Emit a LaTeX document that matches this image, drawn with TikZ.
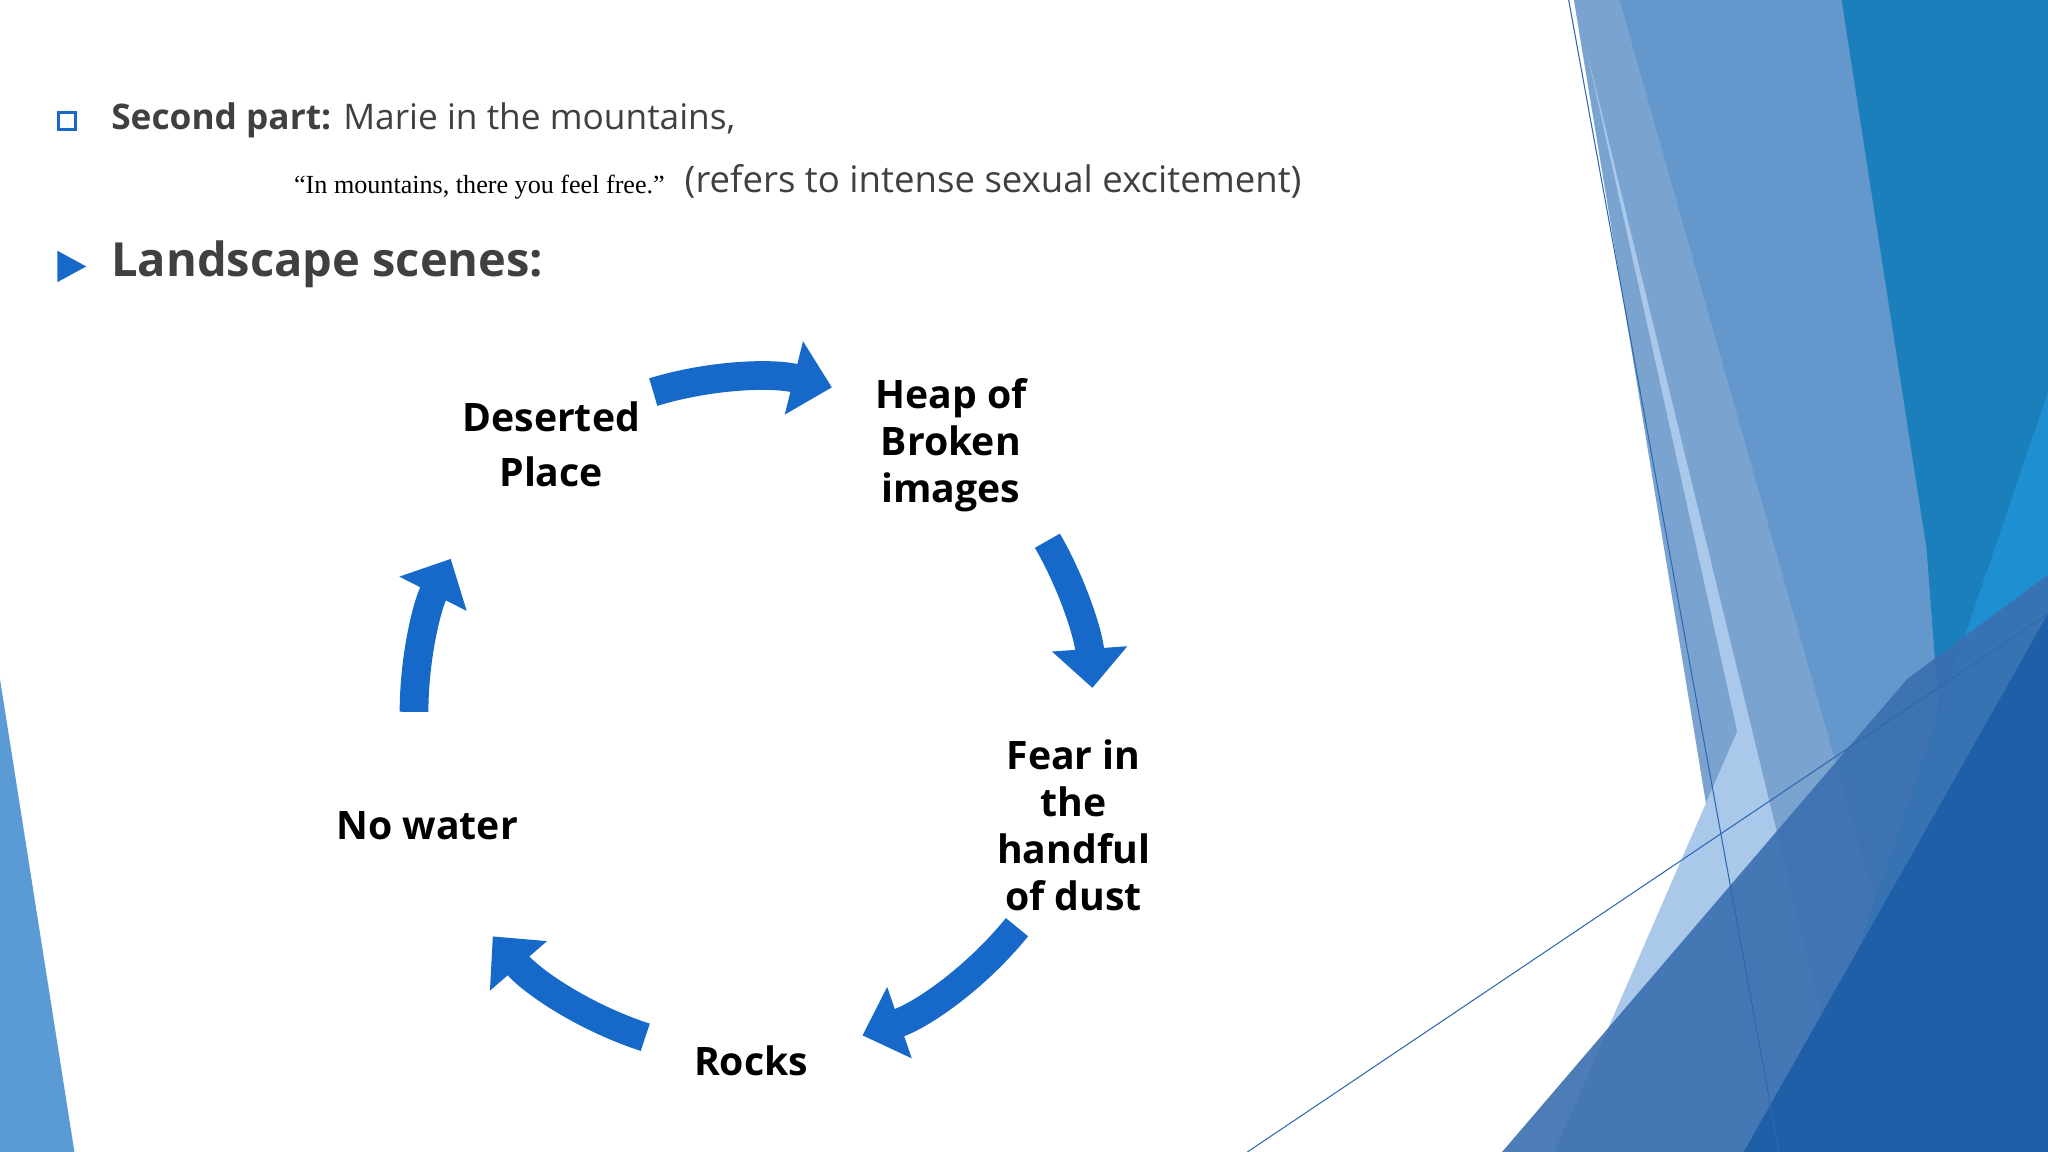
\documentclass[tikz,border=0pt]{standalone}
\usepackage{fontspec}
\setmainfont{Open Sans}
\newfontfamily\quotefont{Liberation Serif}
\usetikzlibrary{arrows.meta}
\begin{document}
\begin{tikzpicture}[x=1pt,y=-1pt,
  lbl/.style={font=\fontsize{30}{36}\selectfont\bfseries, text=black, align=center, inner sep=0},
  cyc/.style={draw=arrblue, line width=22pt, -{Triangle[width=56pt,length=30pt]}},
  ]
\definecolor{arrblue}{HTML}{1769C9}
\definecolor{txt}{HTML}{404040}
\useasboundingbox (0,0) rectangle (1568,882);
\fill[white] (0,0) rectangle (1568,882);
% right decorative shapes
\fill[fill={rgb,255:red,122;green,163;blue,207}] (1205,0)--(1420,0)--(1500,580)--(1440,882)--(1350,882)--cycle;
\fill[fill={rgb,255:red,169;green,200;blue,234}] (1215,40)--(1420,882)--(1190,882)--(1330,560)--cycle;
\fill[fill={rgb,255:red,100;green,152;blue,204}] (1240,0)--(1420,0)--(1568,700)--(1568,882)--(1490,882)--cycle;
\fill[fill={rgb,255:red,26;green,127;blue,186}] (1410,0)--(1568,0)--(1568,882)--(1510,882)--(1475,420)--cycle;
\fill[fill={rgb,255:red,30;green,143;blue,208}] (1568,300)--(1425,720)--(1450,882)--(1568,882)--cycle;
\fill[fill={rgb,255:red,58;green,111;blue,175},opacity=0.9] (1150,882)--(1460,520)--(1568,440)--(1568,882)--cycle;
\fill[fill={rgb,255:red,31;green,95;blue,168}] (1335,882)--(1568,470)--(1568,882)--cycle;
\draw[line width=0.8pt,draw={rgb,255:red,46;green,104;blue,176}] (1201,0)--(1362,882);
\draw[line width=0.8pt,draw={rgb,255:red,46;green,104;blue,176}] (955,882)--(1568,470);
\fill[fill={rgb,255:red,91;green,155;blue,213}] (0,520)--(57,882)--(0,882)--cycle;
% header
\draw[arrblue, line width=2pt] (45,86) rectangle (58,99);
\node[anchor=west, inner sep=0, text=txt, font=\fontsize{27}{32}\selectfont] (sp) at (85,92) {\textbf{Second part:} Marie in the mountains,};
\node[anchor=west, inner sep=0, text=black, font=\quotefont\fontsize{20}{22}\selectfont] (q) at (225,143) {“In mountains, there you feel free.”};
\node[anchor=west, inner sep=0, text=txt, font=\fontsize{28}{32}\selectfont] (ref) at (524,139) {(refers to intense sexual excitement)};
\fill[arrblue] (44,192)--(66,204)--(44,216)--cycle;
\node[anchor=west, inner sep=0, text=txt, font=\fontsize{36}{42}\selectfont\bfseries] (ls) at (85,202) {Landscape scenes:};
% labels
\node[lbl] (des) at (422,340) {Deserted\\[6pt]Place};
\node[lbl] (heap) at (728,341) {Heap of\\Broken\\images};
\node[lbl] (fear) at (822,632) {Fear in\\the\\handful\\of dust};
\node[lbl] (rocks) at (575,812) {Rocks};
\node[lbl] (nw) at (327,632) {No water};
% cycle arrows
\coordinate (c) at (575,545);
\draw[cyc] (c) ++(-107:256) arc[start angle=-107,end angle=-76,radius=256];
\draw[cyc] (c) ++(-30:262) arc[start angle=-30,end angle=-4,radius=262];
\draw[cyc] (c) ++(39:262) arc[start angle=39,end angle=71,radius=262];
\draw[cyc] (c) ++(108:262) arc[start angle=108,end angle=139,radius=262];
\draw[cyc] (c) ++(180:258) arc[start angle=180,end angle=207,radius=258];
\end{tikzpicture}
\end{document}
